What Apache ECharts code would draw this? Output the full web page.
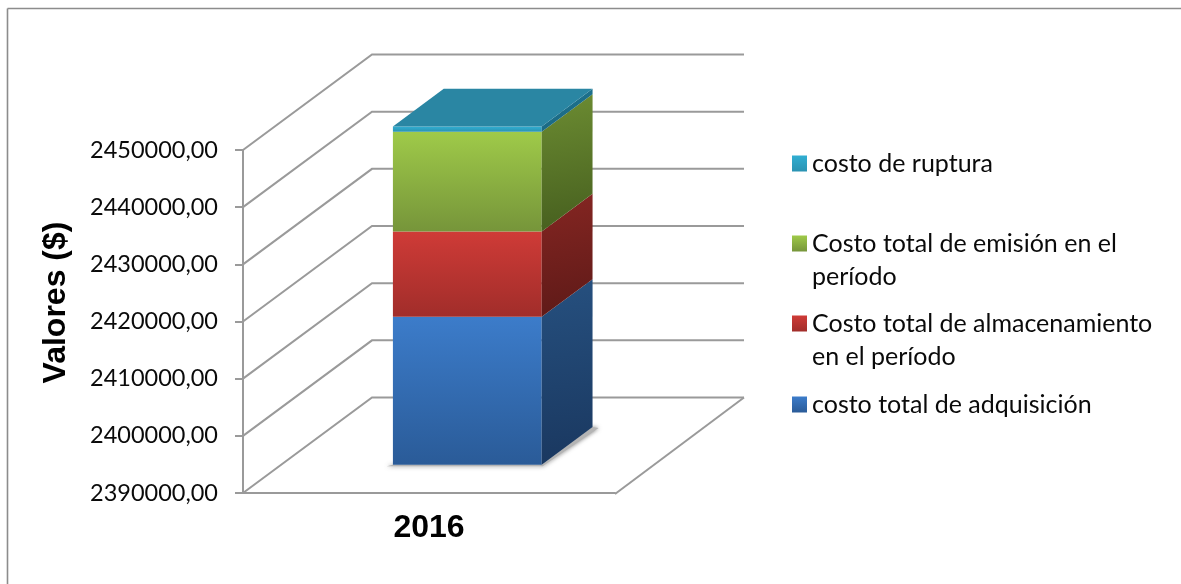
<!DOCTYPE html>
<html>
<head>
<meta charset="utf-8">
<style>html,body{margin:0;padding:0;background:#fff}#c{width:1181px;height:584px}</style>
<script src="https://cdn.jsdelivr.net/npm/echarts@6/dist/echarts.min.js"></script>
</head>
<body>
<div id="c"></div>
<script>
const categories = ['2016'];
const yTicks = [2390000, 2400000, 2410000, 2420000, 2430000, 2440000, 2450000];
const costoAdquisicion = [2415850];
const costoAlmacenamiento = [14950];
const costoEmision = [17430];
const costoRuptura = [930];
const seriesNames = ['costo total de adquisición', 'Costo total de almacenamiento en el período', 'Costo total de emisión en el período', 'costo de ruptura'];
const legendLabels = {
  'costo de ruptura': 'costo de ruptura',
  'Costo total de emisión en el período': '\nCosto total de emisión en el\nperíodo',
  'Costo total de almacenamiento en el período': '\nCosto total de almacenamiento\nen el período',
  'costo total de adquisición': 'costo total de adquisición'
};

const AXIS = '#9a9a9a';
const TEXT_FONT = 'Lato';
const D = [129, -95.5];          // depth vector of the 3D box
const T0 = 0.297, T1 = 0.691;    // bar depth range, fraction of D
const grad = (a, b, x2, y2) => new echarts.graphic.LinearGradient(0, 0, x2, y2, [{offset: 0, color: a}, {offset: 1, color: b}]);
const palette = [
  {front: ['#3c7cca', '#2a5b98'], side: ['#26507f', '#1a3860']},
  {front: ['#cf3b37', '#a12d2a'], side: ['#852622', '#5f1a18']},
  {front: ['#9fca49', '#76953a'], side: ['#6c8c32', '#47601f']},
  {front: ['#31aed2', '#2a93b2'], side: ['#1f7a97', '#1a6680'], top: '#2a86a3'}
];

const stackInputs = [costoAdquisicion, costoAlmacenamiento, costoEmision, costoRuptura];
let running = yTicks[0];
const stacked = stackInputs.map((arr, i) => {
  const lo = i === 0 ? yTicks[0] : running;
  const hi = i === 0 ? arr[0] : running + arr[0];
  running = hi;
  return [[0, lo, hi]];
});

function poly(points, style, z2) {
  return {type: 'polygon', shape: {points}, style, z2: z2 || 0};
}

function renderBar(idx) {
  return function (params, api) {
    const lo = api.coord([api.value(0), api.value(1)]);
    const hi = api.coord([api.value(0), api.value(2)]);
    const w = api.size([1, 0])[0] * 0.4;
    const fx = lo[0] + D[0] * T0 - w / 2, fy = D[1] * T0;
    const dx = D[0] * (T1 - T0), dy = D[1] * (T1 - T0);
    const a = [fx, hi[1] + fy], b = [fx + w, hi[1] + fy], c = [fx + w, lo[1] + fy], d = [fx, lo[1] + fy];
    const p = palette[idx];
    const children = [];
    if (idx === 0) {
      children.push(poly([[d[0] - 6, d[1] + 1.5], [c[0] + 1, c[1] + 1.5], [c[0] + dx + 6, c[1] + dy + 1], [c[0] + dx, c[1] + dy], c, d], {
        fill: '#b4b4b4', shadowBlur: 4, shadowColor: 'rgba(80,80,80,0.8)'
      }));
    }
    children.push(poly([a, b, c, d], {fill: grad(p.front[0], p.front[1], 0, 1)}));
    children.push(poly([b, [b[0] + dx, b[1] + dy], [c[0] + dx, c[1] + dy], c], {fill: grad(p.side[0], p.side[1], 0.4, 1)}));
    if (p.top) {
      children.push(poly([a, [a[0] + dx, a[1] + dy], [b[0] + dx, b[1] + dy], b], {fill: p.top}));
    }
    return {type: 'group', children};
  };
}

function renderWalls(params, api) {
  const v = api.value(0);
  const p = api.coord([0, v]);
  const left = params.coordSys.x;
  const right = left + params.coordSys.width;
  const s = {stroke: AXIS, lineWidth: 2, fill: 'none'};
  const children = [{
    type: 'polyline',
    shape: {points: [[left, p[1]], [left + D[0], p[1] + D[1]], [right + D[0], p[1] + D[1]]]},
    style: s
  }];
  if (v === yTicks[0]) {
    children.push({type: 'line', shape: {x1: right, y1: p[1] + 1, x2: right + D[0], y2: p[1] + D[1]}, style: s});
  }
  return {type: 'group', children};
}

const series = [{
  type: 'custom', name: 'walls', coordinateSystem: 'cartesian2d', silent: true,
  data: yTicks.map(v => [v]), encode: {y: 0}, renderItem: renderWalls, clip: false
}].concat(seriesNames.map((name, i) => ({
  type: 'custom', name, coordinateSystem: 'cartesian2d', silent: true, clip: false,
  itemStyle: {color: grad(palette[i].front[0], palette[i].front[1], 0, 1)},
  data: stacked[i], encode: {x: 0, y: [1, 2]}, renderItem: renderBar(i)
})));

const legendTops = {
  'costo de ruptura': 147,
  'Costo total de emisión en el período': 194,
  'Costo total de almacenamiento en el período': 274,
  'costo total de adquisición': 388
};
const legend = seriesNames.map(name => ({
  data: [{name, itemStyle: {color: series[seriesNames.indexOf(name) + 1].itemStyle.color}}],
  left: 792, top: legendTops[name], padding: 0, itemWidth: 15, itemHeight: 16, itemGap: 8,
  icon: 'rect', selectedMode: false,
  formatter: n => legendLabels[n],
  textStyle: {fontFamily: TEXT_FONT, fontSize: 25, color: '#0a0a0a', lineHeight: 33, padding: 0}
}));

const chart = echarts.init(document.getElementById('c'), null, {renderer: 'canvas'});
chart.setOption({
  animation: false,
  backgroundColor: '#fff',
  grid: {left: 243, top: 150, width: 372, height: 343, containLabel: false},
  legend,
  xAxis: {
    type: 'category', data: categories,
    axisLine: {show: true, lineStyle: {color: AXIS, width: 2}},
    axisTick: {show: false},
    axisLabel: {fontFamily: 'Liberation Sans', fontWeight: 'bold', fontSize: 32, color: '#000', margin: 19},
    splitLine: {show: false}
  },
  yAxis: {
    type: 'value', min: yTicks[0], max: yTicks[yTicks.length - 1], interval: yTicks[1] - yTicks[0],
    name: 'Valores ($)', nameLocation: 'middle', nameRotate: 90, nameGap: 171,
    nameTextStyle: {fontFamily: 'Liberation Sans', fontWeight: 'bold', fontSize: 32, color: '#000', padding: [0, 0, 0, 38]},
    axisLine: {show: true, lineStyle: {color: AXIS, width: 2}},
    axisTick: {show: true, length: 8, lineStyle: {color: AXIS, width: 2}},
    axisLabel: {
      fontFamily: TEXT_FONT, fontSize: 23.5, color: '#0a0a0a', margin: 25,
      formatter: v => v + ',00'
    },
    splitLine: {show: false}
  },
  graphic: [
    {type: 'line', silent: true, shape: {x1: 7.5, y1: 8.5, x2: 1181, y2: 8.5}, style: {stroke: '#8c8c8c', lineWidth: 1.6}},
    {type: 'line', silent: true, shape: {x1: 7.5, y1: 8.5, x2: 7.5, y2: 584}, style: {stroke: '#8c8c8c', lineWidth: 1.6}}
  ],
  series
});
</script>
</body>
</html>
